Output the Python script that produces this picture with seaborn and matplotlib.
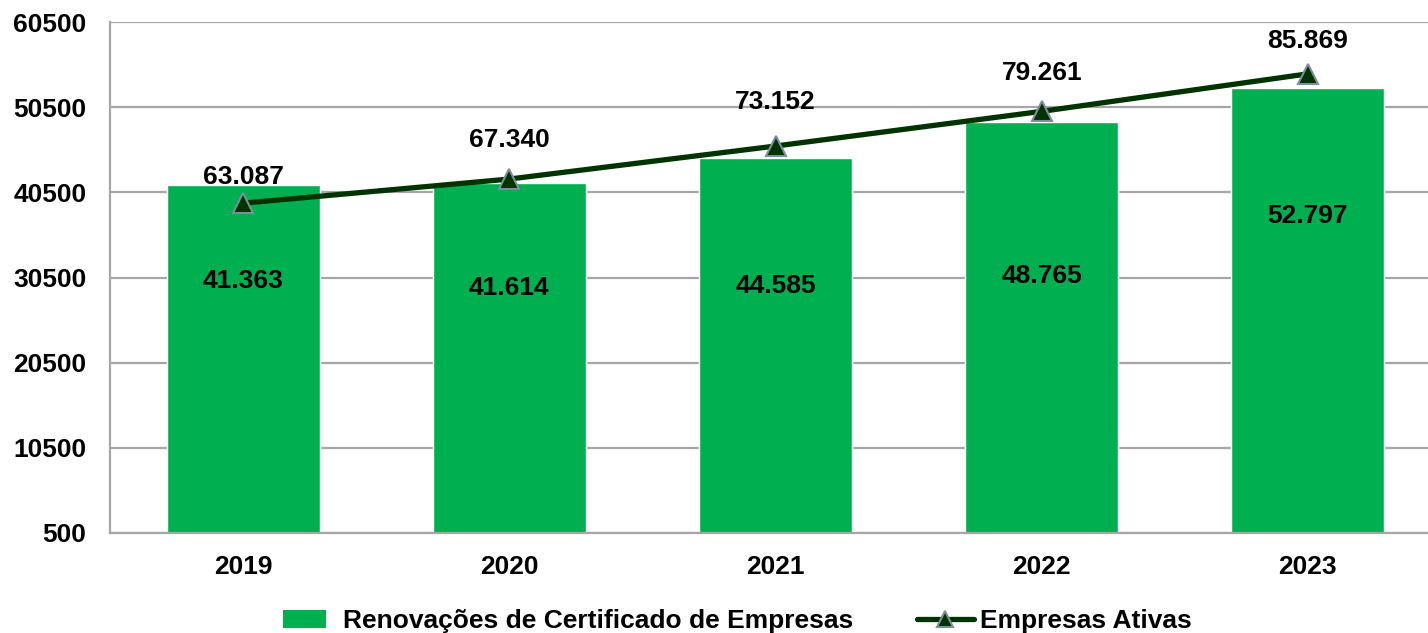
import matplotlib
matplotlib.use("Agg")
import matplotlib.pyplot as plt
import seaborn as sns
import pandas as pd
from matplotlib.patches import Patch, Rectangle
from matplotlib.lines import Line2D
from matplotlib.legend_handler import HandlerPatch

years = ["2019", "2020", "2021", "2022", "2023"]
renovacoes = [41363, 41614, 44585, 48765, 52797]
ativas = [63087, 67340, 73152, 79261, 85869]
bar_label_y = [30090, 29267, 29502, 30676, 37721]
line_label_y = [67700, 74217, 80910, 86018, 91654]
yticks = [500, 10500, 20500, 30500, 40500, 50500, 60500]

def fmt(v):
    return f"{v:,}".replace(",", ".")

sns.set_theme(style="white")
plt.rcParams['font.family'] = ['Liberation Sans', 'DejaVu Sans']
plt.rcParams['font.weight'] = 'bold'
plt.rcParams['text.color'] = 'black'
plt.rcParams['xtick.color'] = 'black'
plt.rcParams['ytick.color'] = 'black'

FS = 19

df = pd.DataFrame({"ano": years, "renov": renovacoes, "ativas": ativas})

fig = plt.figure(figsize=(14.28, 6.33), dpi=100)
ax = fig.add_axes([110/1428, 1-533/633, 1331/1428, 511/633])

sns.barplot(data=df, x="ano", y="renov", color="#00B050", saturation=1,
            width=0.575, ax=ax, zorder=2)
ax.set_ylim(500, 60500)
ax.set_xlim(-0.5, 4.5)
ax.set_yticks(yticks)
ax.set_yticklabels([str(t) for t in yticks], fontsize=FS, fontweight='bold')
ax.set_xticks(range(len(years)))
ax.set_xticklabels(years, fontsize=FS, fontweight='bold')
ax.set_xlabel("")
ax.set_ylabel("")
ax.yaxis.grid(True, color="#a6a6a6", linewidth=1.6, zorder=0)
ax.set_axisbelow(True)
for s in ["top", "right"]:
    ax.spines[s].set_visible(False)
for s in ["left", "bottom"]:
    ax.spines[s].set_color("#a6a6a6")
    ax.spines[s].set_linewidth(1.6)
ax.tick_params(axis='y', length=0, pad=17, colors='black')
ax.tick_params(axis='x', length=0, pad=16, colors='black')

for i, (v, ly) in enumerate(zip(renovacoes, bar_label_y)):
    ax.text(i, ly, fmt(v), ha='center', va='center', fontsize=FS,
            fontweight='bold', color='black', zorder=5)

ax2 = ax.twinx()
sns.lineplot(x=list(range(len(years))), y=ativas, ax=ax2, color="#003300",
             linewidth=3.8, marker="^", markersize=15,
             markerfacecolor="#003300", markeredgecolor="#7f8c99",
             markeredgewidth=1.5, zorder=4)
ax2.set_ylim(5000, 95000)
ax2.set_xlim(-0.5, 4.5)
ax2.set_yticks([])
for s in ax2.spines.values():
    s.set_visible(False)
for i, (v, ly) in enumerate(zip(ativas, line_label_y)):
    ax2.text(i, ly, fmt(v), ha='center', va='center', fontsize=FS,
             fontweight='bold', color='black', zorder=6)

def narrow_patch(legend, orig_handle, xdescent, ydescent, width, height, fontsize):
    w = width * 0.76
    h = height * 0.95
    return Rectangle((xdescent + width * 0.05, ydescent + (height - h) / 2), w, h)

handles = [Patch(facecolor="#00B050", edgecolor="none"),
           Line2D([0], [0], color="#003300", linewidth=3.8, marker="^",
                  markersize=12, markerfacecolor="#003300",
                  markeredgecolor="#7f8c99", markeredgewidth=1.5)]
labels = ["Renovações de Certificado de Empresas", "Empresas Ativas"]
fig.legend(handles, labels, loc="center", bbox_to_anchor=(736/1428, 1-621/633),
           ncol=2, frameon=False, columnspacing=2.4,
           handlelength=2.15, handletextpad=0.25,
           handler_map={Patch: HandlerPatch(patch_func=narrow_patch)},
           prop={'weight': 'bold', 'size': FS})

fig.savefig("out.png", dpi=100)
